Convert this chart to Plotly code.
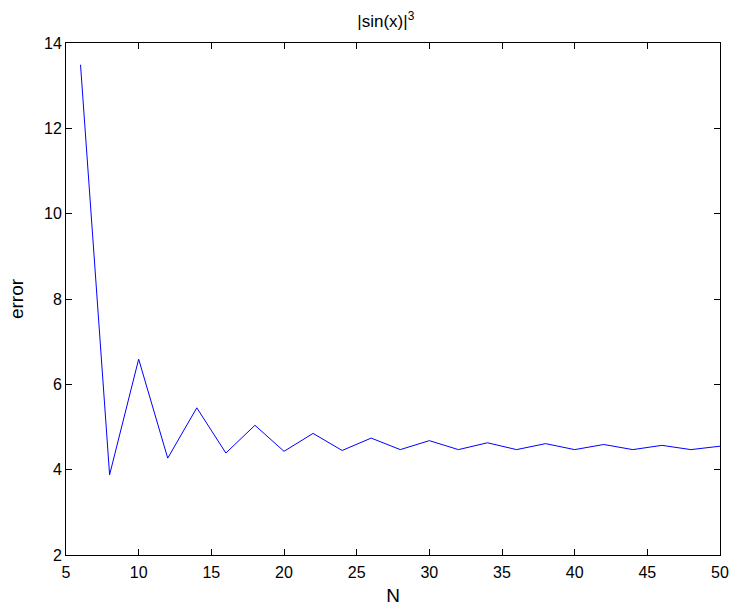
import plotly.graph_objects as go

N = [6, 8, 10, 12, 14, 16, 18, 20, 22, 24, 26, 28, 30, 32, 34, 36, 38, 40, 42, 44, 46, 48, 50]
error = [13.49, 3.88, 6.59, 4.27, 5.45, 4.39, 5.04, 4.43, 4.85, 4.45, 4.74, 4.47, 4.68,
         4.47, 4.63, 4.47, 4.61, 4.47, 4.59, 4.47, 4.57, 4.47, 4.55]
x_ticks = [5, 10, 15, 20, 25, 30, 35, 40, 45, 50]
y_ticks = [2, 4, 6, 8, 10, 12, 14]

fig = go.Figure()
fig.add_trace(go.Scatter(x=N, y=error, mode="lines",
                         line=dict(color="#0000ff", width=1), showlegend=False))

axis_common = dict(showline=True, linecolor="black", linewidth=1, mirror="ticks",
                   ticks="inside", ticklen=6, tickcolor="black", showgrid=False,
                   zeroline=False, automargin=False,
                   tickfont=dict(size=16, color="black"))

fig.update_layout(
    width=730, height=606,
    margin=dict(l=66, r=10, t=43, b=51),
    paper_bgcolor="white", plot_bgcolor="white",
    font=dict(family="Liberation Sans, Arial, sans-serif", size=16, color="black"),
    title=dict(text="|sin(x)|<sup>3</sup>", x=0.489, xref="paper", xanchor="center",
               y=0.965, yanchor="middle", font=dict(size=17)),
    xaxis=dict(range=[5, 50], tickvals=x_ticks, ticklabelstandoff=3,
               title=dict(text="N", standoff=8), **axis_common),
    yaxis=dict(range=[2, 14], tickvals=y_ticks,
               title=dict(text="error", standoff=15), **axis_common),
)

fig.write_html("out.html")
